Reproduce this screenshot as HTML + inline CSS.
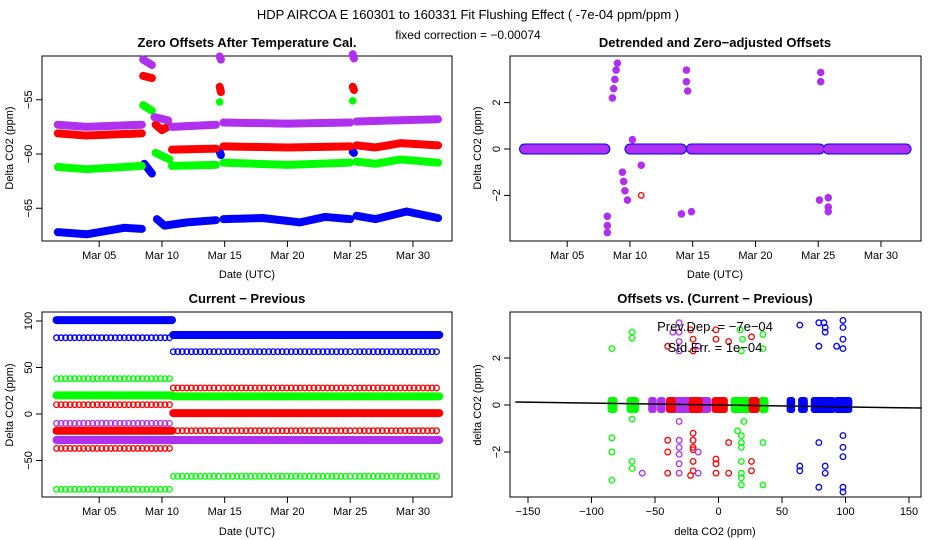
<!DOCTYPE html>
<html><head><meta charset="utf-8"><style>
body{margin:0;background:#fff}
svg{display:block;font-family:"Liberation Sans",sans-serif}
</style></head><body>
<svg id="s" width="936" height="540" viewBox="0 0 936 540">
<rect width="936" height="540" fill="#fff"/>
<text x="468" y="19" text-anchor="middle" font-size="13">HDP   AIRCOA E   160301 to 160331   Fit Flushing Effect ( -7e-04 ppm/ppm )</text>
<text x="468" y="39" text-anchor="middle" font-size="12">fixed correction = −0.00074</text>
<text x="247" y="47" text-anchor="middle" font-size="13" font-weight="bold">Zero Offsets After Temperature Cal.</text>
<text x="715" y="47" text-anchor="middle" font-size="13" font-weight="bold">Detrended and Zero−adjusted Offsets</text>
<text x="247" y="303" text-anchor="middle" font-size="13" font-weight="bold">Current − Previous</text>
<text x="715" y="303" text-anchor="middle" font-size="13" font-weight="bold">Offsets vs. (Current − Previous)</text>
<text x="247" y="278" text-anchor="middle" font-size="11">Date (UTC)</text>
<text x="715" y="278" text-anchor="middle" font-size="11">Date (UTC)</text>
<text x="247" y="535" text-anchor="middle" font-size="11">Date (UTC)</text>
<text x="715" y="535" text-anchor="middle" font-size="11">delta CO2 (ppm)</text>
<text transform="translate(13,148) rotate(-90)" text-anchor="middle" font-size="11">Delta CO2 (ppm)</text>
<text transform="translate(481,148) rotate(-90)" text-anchor="middle" font-size="11">Delta CO2 (ppm)</text>
<text transform="translate(13,405) rotate(-90)" text-anchor="middle" font-size="11">Delta CO2 (ppm)</text>
<text transform="translate(481,405) rotate(-90)" text-anchor="middle" font-size="11">delta CO2 (ppm)</text>
</svg>
<script>
// ---- data ----
const dateTicks=[5,10,15,20,25,30];
const dateTickLabels=["Mar 05","Mar 10","Mar 15","Mar 20","Mar 25","Mar 30"];
const p1YTicks=[-55,-60,-65];
const p2YTicks=[2,0,-2];
const p3YTicks=[100,50,0,-50];
const p4YTicks=[2,0,-2];
const p4XTicks=[-150,-100,-50,0,50,100,150];
const p1Purple=[[[1.7,-57.3],[4,-57.5],[8.4,-57.3]],[[8.5,-51.3],[9.2,-51.8]],[[9.4,-56.6],[10.5,-56.9]],[[10.8,-57.5],[14.3,-57.3]],[[14.6,-51],[14.7,-51.3]],[[14.9,-57.1],[20,-57.2],[25,-57.1]],[[25.2,-50.8],[25.3,-51.2]],[[25.5,-57],[32,-56.8]]];
const p1Red=[[[1.7,-58.1],[4,-58.3],[8.4,-58.1]],[[8.5,-52.8],[9.2,-53]],[[9.5,-57.3],[10,-57.8],[10.6,-57.4]],[[10.8,-59.6],[14.3,-59.5]],[[14.6,-53.8],[14.7,-54.3]],[[14.9,-59.3],[20,-59.4],[25,-59.3]],[[25.2,-53.8],[25.3,-54.1]],[[25.5,-59.2],[27,-59.4],[29,-59],[32,-59.2]]];
const p1Green=[[[1.7,-61.2],[4,-61.4],[8.4,-61.1]],[[8.5,-55.5],[9.2,-56]],[[9.5,-59.9],[10.6,-60.5]],[[10.8,-61.1],[14.3,-61]],[[14.6,-55.2]],[[14.9,-60.8],[20,-61],[25,-60.8]],[[25.2,-55.1]],[[25.5,-60.7],[27,-60.9],[29,-60.5],[32,-60.8]]];
const p1Blue=[[[1.7,-67.2],[4,-67.4],[7,-66.8],[8.4,-66.9]],[[8.6,-60.9],[9.2,-61.8]],[[9.6,-66],[10.2,-66.6],[12,-66.3],[14.3,-66.1]],[[14.6,-59.8],[14.7,-60.1]],[[14.9,-66],[18,-65.9],[21,-66.3],[23,-65.8],[25,-66]],[[25.2,-59.8],[25.3,-59.9]],[[25.5,-65.7],[27,-66],[29.5,-65.3],[32,-65.9]]];
const p2Bands=[[1.6,8.0],[10.0,14.1],[14.9,25.1],[25.8,32.0]];
const p2Spikes=[[8.2,-2.9],[8.2,-3.3],[8.2,-3.6],[8.6,2.2],[8.7,2.6],[8.8,3.0],[8.9,3.4],[9.0,3.7],[9.4,-1.0],[9.5,-1.4],[9.6,-1.8],[9.8,-2.2],[10.2,0.4],[10.9,-0.7],[14.1,-2.8],[14.9,-2.7],[14.5,3.4],[14.5,2.9],[14.6,2.5],[25.2,3.3],[25.2,2.9],[25.8,-2.1],[25.8,-2.5],[25.8,-2.7],[25.1,-2.2]];
const p2RedRing=[[10.9,-2.0]];
// panel 3: [value, startDay, endDay]
const p3BlueBands=[[101,1.6,10.8],[85,10.9,32.1]];
const p3BlueRings=[[82,1.6,10.8],[67,10.9,14.7],[67,14.9,25.2],[67,25.4,32.1]];
const p3GreenBands=[[20,1.6,10.8],[19,10.9,32.1]];
const p3GreenRings=[[38,1.6,10.8],[-81,1.6,10.8],[-67,10.9,14.7],[-67,14.9,25.2],[-67,25.4,32.1]];
const p3RedBands=[[-18,1.6,10.8],[1,10.9,32.1]];
const p3RedRings=[[10,1.6,10.8],[-37,1.6,10.8],[28,10.9,14.7],[28,14.9,25.2],[28,25.4,32.1],[-18,10.9,14.7],[-18,14.9,25.2],[-18,25.4,32.1]];
const p3PurpleBands=[[-28,1.6,32.1]];
const p3PurpleRings=[[-10,1.6,10.8]];
// panel 4 clusters near zero: [xmin,xmax]
const p4GreenClusters=[[-85,-82],[-70,-65],[12,24],[34,37]];
const p4PurpleClusters=[[-53,-51],[-46,-44],[-38,-22],[-13,-8]];
const p4RedClusters=[[-39,-36],[-21,-15],[-3,5],[26,30]];
const p4BlueClusters=[[56,58],[65,68],[75,90],[93,103]];
const p4Green=[[-84,2.4],[-84,-1.4],[-84,-2.0],[-84,-3.2],[-68,3.1],[-68,2.85],[-68,-0.6],[-68,-2.4],[-68,-2.7],[17,3.2],[19,2.8],[18,2.3],[20,-0.7],[15,-1.1],[18,-1.3],[18,-1.6],[18,-1.8],[18,-2.4],[18,-2.9],[18,-3.1],[18,-3.4],[35,3.0],[35,2.4],[35,-1.6],[35,-3.4]];
const p4Red=[[-40,2.5],[-40,-1.5],[-40,-2.0],[-40,-2.9],[-22,3.2],[-20,2.8],[-20,2.3],[-20,-1.2],[-20,-1.5],[-20,-1.8],[-20,-1.9],[-20,-2.4],[-20,-2.8],[-22,-3.0],[-2,3.2],[-2,2.8],[-2,-2.3],[-2,-2.5],[-2,-2.9],[8,2.7],[8,-1.6],[8,-2.9],[26,2.9],[26,-2.4],[26,-2.8]];
const p4Purple=[[-31,3.5],[-31,3.1],[-31,2.7],[-31,2.3],[-31,-0.7],[-31,-1.5],[-31,-1.8],[-31,-2.1],[-31,-2.5],[-31,-2.9],[-60,-2.9],[-16,2.5],[-16,-2.0],[-16,-2.9],[-36,3.1]];
const p4Blue=[[64,3.4],[64,-2.6],[64,-2.8],[79,3.5],[79,2.5],[79,-1.6],[79,-3.5],[83,3.5],[84,3.3],[84,3.1],[84,-2.6],[84,-2.9],[98,3.6],[98,3.3],[98,2.8],[98,2.4],[98,-1.3],[98,-1.8],[98,-2.2],[98,-3.5],[98,-3.7],[93,2.5]];
const p4Fit=[[-160,0.13],[160,-0.13]];
// ---- scales ----
const X=d=>49+(d-1)*12.55, X2=d=>517+(d-1)*12.55;
const Y1=v=>154-(v+60)*10.85, Y2=v=>149-v*23.2, Y3=v=>414-v*0.93;
const X4=v=>718.5+v*1.27, Y4=v=>405-v*23.5;
const C={blue:"#0000ff",red:"#ff0000",green:"#00ff00",purple:"#b030f0"};
const svg=document.getElementById('s'), NS="http://www.w3.org/2000/svg";
function mk(t,a,p){const e=document.createElementNS(NS,t);for(const k in a)e.setAttribute(k,a[k]);(p||svg).appendChild(e);return e;}
function frame(x0,y0,x1,y1,name){const r=mk('rect',{x:x0,y:y0,width:x1-x0,height:y1-y0,fill:'none',stroke:'#000','stroke-width':1});

}
function xaxis(ticks,labels,fx,yb,name){const g=mk('g',{});


ticks.forEach((t,i)=>{mk('line',{x1:fx(t),x2:fx(t),y1:yb,y2:yb+6,stroke:'#000'},g);const tx=mk('text',{x:fx(t),y:yb+18,'text-anchor':'middle','font-size':11},g);tx.textContent=labels[i];});}
function yaxis(ticks,fy,xl,name){const g=mk('g',{});


ticks.forEach(t=>{mk('line',{x1:xl-6,x2:xl,y1:fy(t),y2:fy(t),stroke:'#000'},g);const tx=mk('text',{transform:`translate(${xl-10},${fy(t)}) rotate(-90)`,'text-anchor':'middle','font-size':11},g);tx.textContent=String(t).replace('-','−');});}
function seg(segs,col,fy,fx,name,w){const g=mk('g',{});


segs.forEach(s=>{if(s.length==1)mk('circle',{cx:fx(s[0][0]),cy:fy(s[0][1]),r:3.8,fill:col},g);else mk('polyline',{points:s.map(p=>fx(p[0])+','+fy(p[1])).join(' '),fill:'none',stroke:col,'stroke-width':w||8,'stroke-linecap':'round','stroke-linejoin':'round'},g);});}
function rings(pts,col,fx,fy,name){const g=mk('g',{});


pts.forEach(p=>mk('circle',{cx:fx(p[0]),cy:fy(p[1]),r:2.8,fill:'none',stroke:col,'stroke-width':1.3},g));}
function bands(list,col,name){const g=mk('g',{});


list.forEach(b=>mk('line',{x1:X(b[1]),x2:X(b[2]),y1:Y3(b[0]),y2:Y3(b[0]),stroke:col,'stroke-width':8,'stroke-linecap':'round'},g));}
function ringRows(list,col,name){const g=mk('g',{});


list.forEach(b=>{for(let d=b[1];d<=b[2];d+=0.36)mk('circle',{cx:X(d),cy:Y3(b[0]),r:2.8,fill:'none',stroke:col,'stroke-width':1.3},g);});}
function clusters(list,col,name){const g=mk('g',{});


list.forEach(c=>mk('rect',{x:X4(c[0])-3,y:Y4(0.3)-1,width:X4(c[1])-X4(c[0])+6,height:Y4(-0.3)-Y4(0.3)+2,rx:3,fill:col},g));}
// panel 1
frame(42,56,452,241,'panel1-frame');
xaxis(dateTicks,dateTickLabels,X,241,'panel1-x-axis');
yaxis(p1YTicks,Y1,42,'panel1-y-axis');
seg(p1Blue,C.blue,Y1,X,'p1-series-blue');
seg(p1Green,C.green,Y1,X,'p1-series-green');
seg(p1Red,C.red,Y1,X,'p1-series-red');
seg(p1Purple,C.purple,Y1,X,'p1-series-purple');
// panel 2
frame(510,56,921,241,'panel2-frame');
xaxis(dateTicks,dateTickLabels,X2,241,'panel2-x-axis');
yaxis(p2YTicks,Y2,510,'panel2-y-axis');
seg(p2Bands.map(b=>[[b[0],0],[b[1],0]]),C.blue,Y2,X2,'p2-band-blue',11);
seg(p2Bands.map(b=>[[b[0],0],[b[1],0]]),C.purple,Y2,X2,'p2-band-purple',9);
seg(p2Spikes.map(p=>[p]),C.purple,Y2,X2,'p2-spikes');
rings(p2RedRing,C.red,X2,Y2,'p2-red-outlier');
// panel 3
frame(42,312,452,497,'panel3-frame');
xaxis(dateTicks,dateTickLabels,X,497,'panel3-x-axis');
yaxis(p3YTicks,Y3,42,'panel3-y-axis');
ringRows(p3BlueRings,C.blue,'p3-blue-rings');
ringRows(p3GreenRings,C.green,'p3-green-rings');
ringRows(p3RedRings,C.red,'p3-red-rings');
ringRows(p3PurpleRings,C.purple,'p3-purple-rings');
bands(p3BlueBands,C.blue,'p3-blue-band');
bands(p3GreenBands,C.green,'p3-green-band');
bands(p3RedBands,C.red,'p3-red-band');
bands(p3PurpleBands,C.purple,'p3-purple-band');
// panel 4
frame(510,312,921,497,'panel4-frame');
xaxis(p4XTicks,p4XTicks.map(v=>String(v).replace('-','−')),X4,497,'panel4-x-axis');
yaxis(p4YTicks,Y4,510,'panel4-y-axis');
clusters(p4GreenClusters,C.green,'p4-green-cluster');
clusters(p4PurpleClusters,C.purple,'p4-purple-cluster');
clusters(p4RedClusters,C.red,'p4-red-cluster');
clusters(p4BlueClusters,C.blue,'p4-blue-cluster');
rings(p4Green,C.green,X4,Y4,'p4-green-points');
rings(p4Red,C.red,X4,Y4,'p4-red-points');
rings(p4Purple,C.purple,X4,Y4,'p4-purple-points');
rings(p4Blue,C.blue,X4,Y4,'p4-blue-points');
const fl=mk('line',{x1:X4(p4Fit[0][0]),y1:Y4(p4Fit[0][1]),x2:X4(p4Fit[1][0]),y2:Y4(p4Fit[1][1]),stroke:'#000','stroke-width':1.5});


const t1=mk('text',{x:715,y:331,'text-anchor':'middle','font-size':13});t1.textContent='Prev.Dep. =  −7e−04';


const t2=mk('text',{x:715,y:352,'text-anchor':'middle','font-size':13});t2.textContent='Std.Err. =  1e−04';


</script>
</body></html>
